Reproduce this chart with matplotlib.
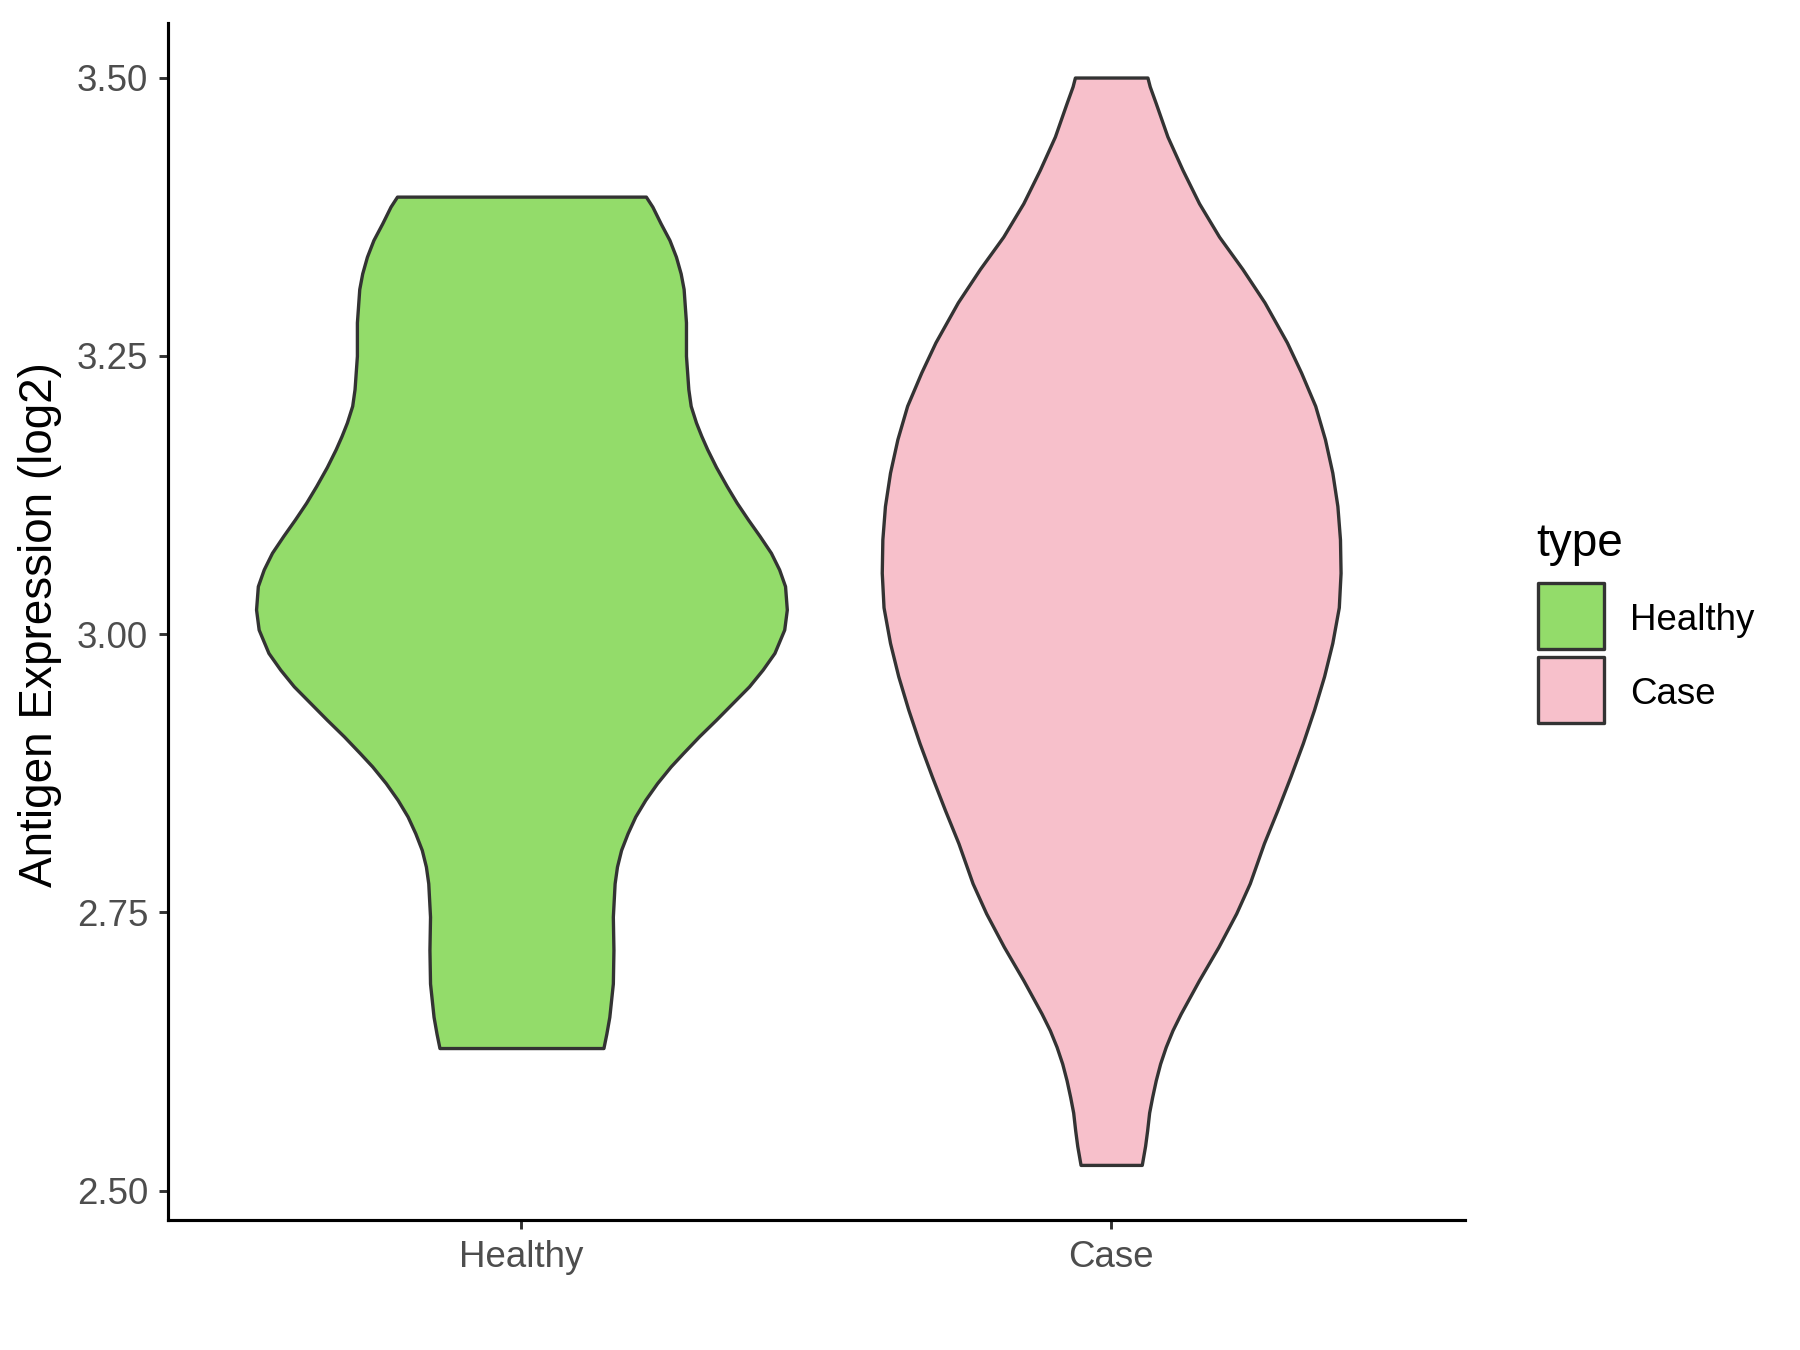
import matplotlib
matplotlib.use('Agg')
import matplotlib.pyplot as plt
from matplotlib.patches import Rectangle

plt.rcParams['font.family'] = ['Liberation Sans', 'DejaVu Sans']

# data (violin half-widths in x-units at given y)
groups = ['Healthy', 'Case']
fill_colors = ['#93DC6A', '#F7C0CB']
edge_color = '#333333'

healthy_y = [3.393, 3.384, 3.369, 3.354, 3.339, 3.324, 3.310, 3.280, 3.250, 3.220,
             3.205, 3.190, 3.178, 3.166, 3.150, 3.133, 3.118, 3.103, 3.088, 3.073,
             3.058, 3.043, 3.022, 3.004, 2.983, 2.968, 2.953, 2.938, 2.923, 2.908,
             2.893, 2.881, 2.866, 2.851, 2.836, 2.821, 2.806, 2.791, 2.776, 2.746,
             2.716, 2.686, 2.656, 2.641, 2.628]
healthy_hw = [0.211, 0.222, 0.236, 0.251, 0.262, 0.270, 0.275, 0.279, 0.279, 0.283,
              0.287, 0.296, 0.305, 0.315, 0.330, 0.348, 0.365, 0.384, 0.404, 0.423,
              0.437, 0.447, 0.450, 0.4456, 0.429, 0.409, 0.386, 0.358, 0.330, 0.301,
              0.274, 0.253, 0.230, 0.210, 0.193, 0.180, 0.169, 0.162, 0.158, 0.155,
              0.156, 0.155, 0.149, 0.144, 0.139]

case_y = [3.500, 3.492, 3.477, 3.447, 3.417, 3.387, 3.357, 3.328, 3.298, 3.262,
          3.235, 3.205, 3.175, 3.145, 3.115, 3.085, 3.055, 3.024, 2.992, 2.962,
          2.932, 2.902, 2.872, 2.842, 2.812, 2.776, 2.749, 2.719, 2.689, 2.659,
          2.644, 2.629, 2.614, 2.599, 2.584, 2.570, 2.554, 2.540, 2.523]
case_hw = [0.0615, 0.0654, 0.0756, 0.0954, 0.121, 0.149, 0.183, 0.2225, 0.260, 0.298,
           0.322, 0.346, 0.3625, 0.375, 0.3836, 0.388, 0.389, 0.386, 0.375, 0.361,
           0.344, 0.325, 0.304, 0.282, 0.259, 0.235, 0.212, 0.182, 0.149, 0.118,
           0.104, 0.0925, 0.083, 0.0756, 0.0695, 0.0644, 0.061, 0.0575, 0.0519]

yticks = [2.50, 2.75, 3.00, 3.25, 3.50]
ytick_labels = ['2.50', '2.75', '3.00', '3.25', '3.50']

profiles = [(healthy_y, healthy_hw), (case_y, case_hw)]

fig = plt.figure(figsize=(6, 4.5), dpi=300)
ax = fig.add_axes([167.6 / 1800, 130 / 1350, (1465 - 167.6) / 1800, (1327 - 130) / 1350])

for i, (y, hw) in enumerate(profiles):
    pos = i + 1
    left = [pos - w for w in hw]
    right = [pos + w for w in hw]
    ax.fill_betweenx(y, left, right, facecolor=fill_colors[i], edgecolor=edge_color,
                     linewidth=0.8, joinstyle='round', zorder=2)

ax.set_xlim(0.4, 2.6)
ax.set_ylim(2.4735, 3.549)
ax.set_xticks([1, 2])
ax.set_xticklabels(groups)
ax.set_yticks(yticks)
ax.set_yticklabels(ytick_labels)

for s in ['top', 'right']:
    ax.spines[s].set_visible(False)
for s in ['left', 'bottom']:
    ax.spines[s].set_color('black')
    ax.spines[s].set_linewidth(0.75)
ax.tick_params(axis='both', length=2.2, width=0.7, color='#333333',
               labelsize=8.8, labelcolor='#4D4D4D', pad=2.5)

fig.text(40 / 1800, 1 - 625 / 1350, 'Antigen Expression (log2)', rotation=90,
         ha='center', va='center', fontsize=11, color='black')

# legend
fig.text(1536 / 1800, 1 - 544 / 1350, 'type', ha='left', va='center', fontsize=11)
key_tops = [583, 657]
for i, g in enumerate(groups):
    top = key_tops[i]
    fig.add_artist(Rectangle((1538 / 1800, 1 - (top + 66) / 1350), 66 / 1800, 66 / 1350,
                             transform=fig.transFigure, facecolor=fill_colors[i],
                             edgecolor=edge_color, linewidth=0.8, joinstyle='round'))
    fig.text(1630 / 1800, 1 - (top + 38) / 1350, g, ha='left', va='center',
             fontsize=8.8, color='black')

fig.savefig('out.png', dpi=300)
